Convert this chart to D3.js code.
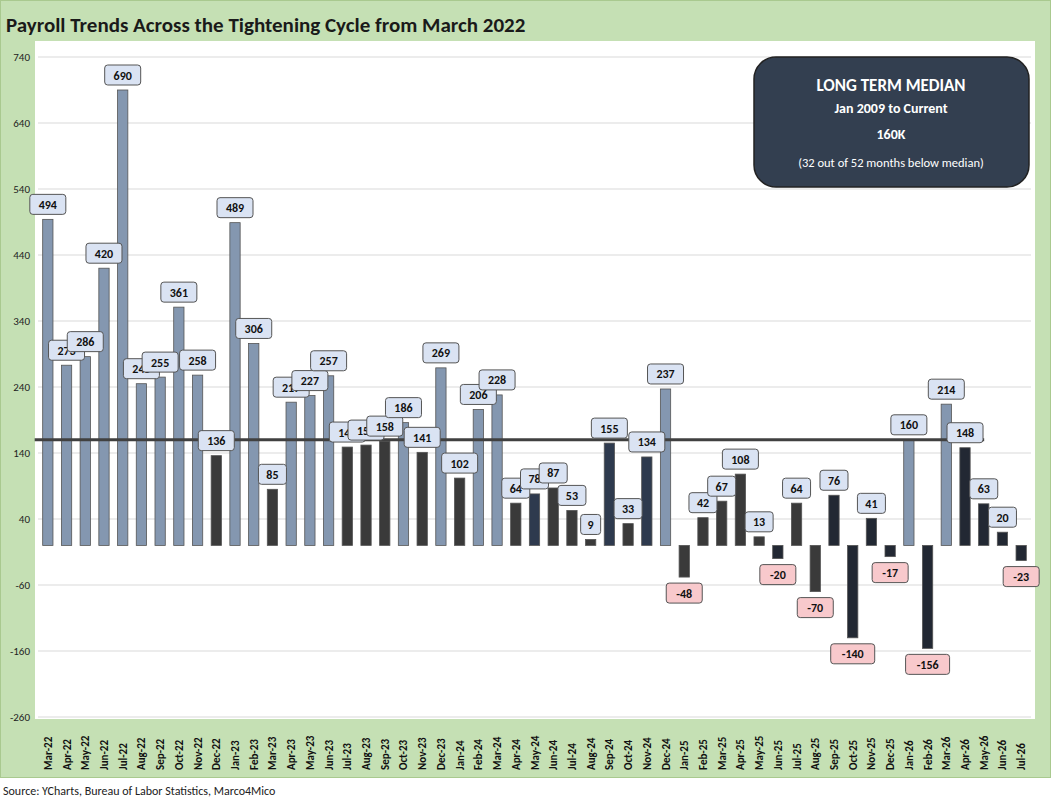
<!DOCTYPE html>
<html><head><meta charset="utf-8">
<script src="https://cdn.jsdelivr.net/npm/d3@7"></script>
<style>body{margin:0;background:#fff;font-family:Calibri,"Liberation Sans",Arial,sans-serif}</style>
</head><body><div id="chart"></div>
<script>
const months = ["Mar-22","Apr-22","May-22","Jun-22","Jul-22","Aug-22","Sep-22","Oct-22","Nov-22","Dec-22",
  "Jan-23","Feb-23","Mar-23","Apr-23","May-23","Jun-23","Jul-23","Aug-23","Sep-23","Oct-23","Nov-23","Dec-23",
  "Jan-24","Feb-24","Mar-24","Apr-24","May-24","Jun-24","Jul-24","Aug-24","Sep-24","Oct-24","Nov-24","Dec-24",
  "Jan-25","Feb-25","Mar-25","Apr-25","May-25","Jun-25","Jul-25","Aug-25","Sep-25","Oct-25","Nov-25","Dec-25",
  "Jan-26","Feb-26","Mar-26","Apr-26","May-26","Jun-26","Jul-26"];
const payrolls = [494,273,286,420,690,245,255,361,258,136,
  489,306,85,217,227,257,149,152,158,186,141,269,
  102,206,228,64,78,87,53,9,155,33,134,237,
  -48,42,67,108,13,-20,64,-70,76,-140,41,-17,
  160,-156,214,148,63,20,-23];
const tones = ["b","b","b","b","b","b","b","b","b","g",
  "b","b","g","b","b","b","g","g","g","b","g","b",
  "g","b","b","g","n","g","g","g","n","g","n","b",
  "g","g","g","g","g","k","g","g","k","k","k","k",
  "b","k","b","k","k","k","k"];
const yTicks = [740,640,540,440,340,240,140,40,-60,-160,-260];
const median = 160;

const W = 1051, H = 805;
const toneColor = {b:"#8497b0", g:"#3a3a3a", n:"#2e3a4e", k:"#222833"};
const svg = d3.select("#chart").append("svg").attr("width", W).attr("height", H);

// frame
svg.append("rect").attr("x",0).attr("y",0).attr("width",W).attr("height",778).attr("fill","#c5e0b4");
svg.append("rect").attr("x",0.5).attr("y",0.5).attr("width",W-1).attr("height",777).attr("fill","none").attr("stroke","#a9c98f");
svg.append("text").attr("x",6).attr("y",32).text("Payroll Trends Across the Tightening Cycle from March 2022")
  .attr("font-size",21).attr("font-weight","bold").attr("fill","#1a1a1a");
svg.append("rect").attr("x",35).attr("y",41).attr("width",1000).attr("height",678).attr("fill","#fff");

const y = d3.scaleLinear().domain([-260,740]).range([717,57]);
const x = d3.scaleBand().domain(months).range([38,1031]).paddingInner(0.45).paddingOuter(0.25);

svg.append("g").selectAll("line").data(yTicks).enter().append("line")
  .attr("x1",38).attr("x2",1031).attr("y1",d=>y(d)).attr("y2",d=>y(d))
  .attr("stroke","#d9d9d9").attr("stroke-width",1);
svg.append("g").selectAll("text").data(yTicks).enter().append("text")
  .attr("x",30).attr("y",d=>y(d)+4).attr("text-anchor","end").attr("font-size",11)
  .attr("fill","#222").text(d=>d);

svg.append("g").selectAll("rect").data(payrolls).enter().append("rect")
  .attr("x",(d,i)=>x(months[i])).attr("width",x.bandwidth())
  .attr("y",d=>y(Math.max(0,d))).attr("height",d=>Math.abs(y(d)-y(0)))
  .attr("fill",(d,i)=>toneColor[tones[i]]).attr("stroke","#555").attr("stroke-width",0.8);

// median line
svg.append("line").attr("x1",x(months[0])-8).attr("x2",x("Apr-26")+x.bandwidth()+14)
  .attr("y1",y(median)).attr("y2",y(median)).attr("stroke","#404040").attr("stroke-width",3);

// labels
const lab = svg.append("g").selectAll("g").data(payrolls).enter().append("g")
  .attr("transform",(d,i)=>{
    const cx = x(months[i]) + x.bandwidth()/2;
    const cy = d >= 0 ? y(d) - 15 : y(d) + 16;
    return `translate(${cx},${cy})`;
  });
lab.append("rect").attr("x",d=>-(String(d).length*4+6)).attr("y",-10)
  .attr("width",d=>String(d).length*8+12).attr("height",20).attr("rx",3)
  .attr("fill",d=>d>=0?"#dae3f3":"#f8c9cc").attr("stroke","#555").attr("stroke-width",1);
lab.append("text").attr("text-anchor","middle").attr("y",4.5).attr("font-size",12)
  .attr("font-weight","bold").attr("fill","#111").text(d=>d);

// x labels
svg.append("g").selectAll("text").data(months).enter().append("text")
  .attr("transform",m=>`translate(${x(m)+x.bandwidth()/2+4},770) rotate(-90)`)
  .attr("font-size",11).attr("font-weight","bold").attr("fill","#111").text(m=>m);

// info box
const bx = svg.append("g").attr("transform","translate(754,57)");
bx.append("rect").attr("width",275).attr("height",130).attr("rx",22).attr("fill","#333f50").attr("stroke","#222").attr("stroke-width",1.5);
const info = [["LONG TERM MEDIAN",17,34],["Jan 2009 to Current",14,56],["160K",14,82],["(32 out of 52 months below median)",12.5,110]];
bx.selectAll("text").data(info).enter().append("text").attr("x",137).attr("y",d=>d[2])
  .attr("text-anchor","middle").attr("font-size",d=>d[1]).attr("font-weight",(d,i)=>i<3?"bold":"normal")
  .attr("fill","#fff").text(d=>d[0]);

svg.append("text").attr("x",3).attr("y",795).attr("font-size",12).attr("fill","#222")
  .text("Source: YCharts, Bureau of Labor Statistics, Marco4Mico");
</script></body></html>
